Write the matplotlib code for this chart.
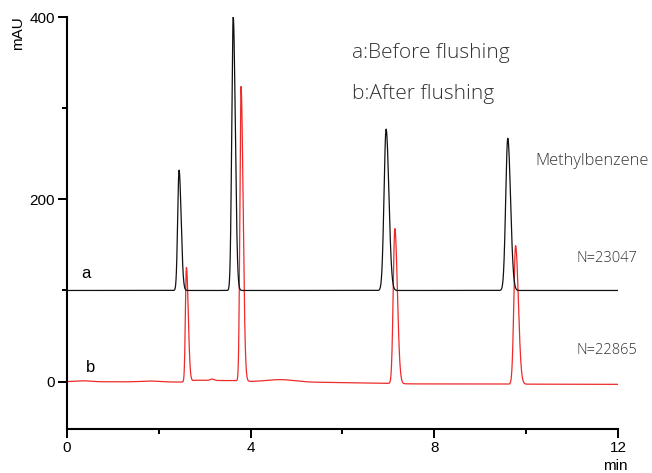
import numpy as np
import matplotlib
matplotlib.use("Agg")
import matplotlib.pyplot as plt
from matplotlib.ticker import MultipleLocator

# Chromatogram peak tables (retention time in min, height in mAU above baseline,
# left/right half-widths in min)
a_offset = 100.0
a_rt = [2.44, 3.62, 6.95, 9.60]
a_height = [132.0, 300.0, 177.0, 167.0]
a_sig_left = [0.030, 0.032, 0.045, 0.045]
a_sig_right = [0.045, 0.045, 0.060, 0.060]

b_offset = 0.0
b_rt = [2.60, 3.79, 7.14, 9.77]
b_height = [125.0, 323.0, 170.0, 152.0]
b_sig_left = [0.022, 0.025, 0.035, 0.038]
b_sig_right = [0.040, 0.045, 0.055, 0.060]

# small baseline disturbances on trace b
b_bump_rt = [0.35, 1.80, 3.16, 4.65]
b_bump_height = [1.0, 1.0, 1.5, 2.5]
b_bump_sig = [0.15, 0.20, 0.04, 0.30]
# baseline drift of trace b (time, mAU)
b_drift_t = [0.0, 2.5, 2.8, 3.7, 4.0, 6.0, 7.5, 12.0]
b_drift_v = [0.0, -0.5, 1.5, 1.0, 0.0, -1.0, -2.5, -3.0]

x_ticks = [0, 4, 8, 12]
y_ticks = [0, 200, 400]
plate_a = "N=23047"
plate_b = "N=22865"


def peak(t, rt, h, sl, sr):
    s = np.where(t < rt, sl, sr)
    return h * np.exp(-0.5 * ((t - rt) / s) ** 2)


t = np.linspace(0, 12, 6001)
trace_a = np.full_like(t, a_offset)
for rt, h, sl, sr in zip(a_rt, a_height, a_sig_left, a_sig_right):
    trace_a += peak(t, rt, h, sl, sr)

trace_b = b_offset + np.interp(t, b_drift_t, b_drift_v)
for rt, h, sl, sr in zip(b_rt, b_height, b_sig_left, b_sig_right):
    trace_b += peak(t, rt, h, sl, sr)
for rt, h, s in zip(b_bump_rt, b_bump_height, b_bump_sig):
    trace_b += peak(t, rt, h, s, s)

fig = plt.figure(figsize=(6.52, 4.73), dpi=100)
ax = fig.add_axes([0.1028, 0.0930, 0.845, 0.871])

ax.plot(t, trace_b, color="#ee2a2a", lw=0.9, zorder=2)
ax.plot(t, trace_a, color="#111111", lw=0.9, zorder=3)

ax.set_xlim(0, 12)
ax.set_ylim(-52, 400)
for s in ("top", "right"):
    ax.spines[s].set_visible(False)
for s in ("left", "bottom"):
    ax.spines[s].set_linewidth(1.5)

ax.set_xticks(x_ticks)
ax.set_yticks(y_ticks)
ax.xaxis.set_minor_locator(MultipleLocator(2))
ax.yaxis.set_minor_locator(MultipleLocator(100))
ax.tick_params(axis="both", which="major", direction="out", length=6.5,
               width=1.4, labelsize=11, pad=2,
               labelfontfamily="Liberation Sans")
ax.tick_params(axis="both", which="minor", direction="out", length=3.5,
               width=1.4)

sans = "Liberation Sans"
fig.text(18 / 652, 1 - 33 / 473, "mAU", rotation=90, ha="center",
         va="center", fontsize=11, family=sans)
fig.text(615 / 652, 1 - 466 / 473, "min", ha="center", va="center",
         fontsize=11, family=sans)

ax.text(0.42, 119, "a", fontsize=12, family=sans, va="center", ha="center")
ax.text(0.52, 16, "b", fontsize=12, family=sans, va="center", ha="center")

light = dict(family="Open Sans", fontweight="light", color="#333333")
fig.text(352 / 652, 1 - 53 / 473, "a:Before flushing", fontsize=15,
         va="center", ha="left", **light)
fig.text(352 / 652, 1 - 94 / 473, "b:After flushing", fontsize=15,
         va="center", ha="left", **light)
fig.text(535 / 652, 1 - 161 / 473, "Methylbenzene", fontsize=11.8,
         va="center", ha="left", **light)
fig.text(577 / 652, 1 - 259 / 473, plate_a, fontsize=10.5,
         va="center", ha="left", **light)
fig.text(577 / 652, 1 - 350 / 473, plate_b, fontsize=10.5,
         va="center", ha="left", **light)

fig.savefig("out.png", dpi=100)
